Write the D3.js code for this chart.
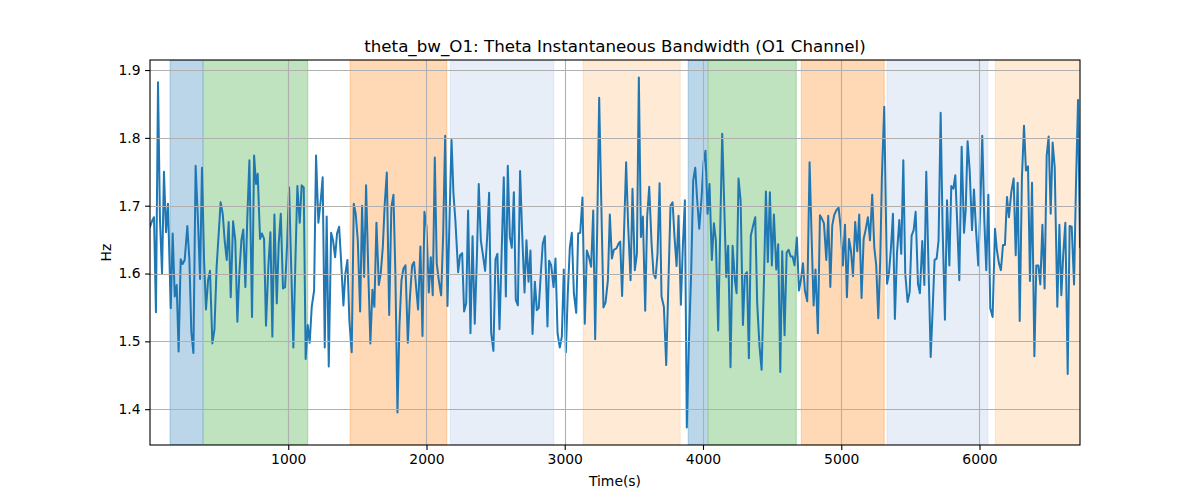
<!DOCTYPE html>
<html>
<head>
<meta charset="utf-8">
<script src="https://cdn.jsdelivr.net/npm/d3@7"></script>
<style>
  html, body { margin: 0; padding: 0; background: #fff; }
  text { font-family: "DejaVu Sans", sans-serif; fill: #000; }
</style>
</head>
<body>
<svg id="chart" width="1200" height="500"></svg>
<script>
// ---- data ----
const titleText = "theta_bw_O1: Theta Instantaneous Bandwidth (O1 Channel)";
const xLabel = "Time(s)";
const yLabel = "Hz";
const xTicks = [1000, 2000, 3000, 4000, 5000, 6000];
const yTicks = [1.4, 1.5, 1.6, 1.7, 1.8, 1.9];

const times = [
  0,14,29,43,58,72,87,101,116,130,150,164,179,193,207,222,236,251,270,285,299,314,330,347,362,376,391,405,420,434,451,466,482,511,526,540,555,569,584,601,617,632,646,661,675,690,704,719,738,753,767,779,796,810,825,839,
  856,871,885,900,917,931,946,962,977,991,1006,1020,1037,1052,1066,1083,1097,1112,1126,1141,1155,1170,1187,1201,1218,1235,1249,1264,1278,1293,1310,1324,1339,1353,1368,1382,1399,1413,1428,1442,1459,1474,1488,1503,1520,1534,1549,1563,1580,1594,1609,1623,1638,1655,1669,1684,
  1698,1713,1730,1746,1761,1775,1790,1804,1819,1833,1848,1865,1879,1896,1910,1925,1939,1956,1971,1985,2000,2017,2031,2045,2060,2074,2089,2106,2120,2135,2152,2166,2181,2195,2209,2229,2243,2258,2272,2287,2301,2318,2333,2349,2364,2378,2393,2407,2424,2439,2453,2468,2484,2499,2513,2528,
  2559,2574,2588,2603,2617,2632,2646,2661,2677,2692,2709,2723,2738,2752,2767,2784,2798,2812,2827,2841,2856,2875,2887,2902,2919,2933,2948,2964,2979,2993,3008,3022,3037,3051,3066,3083,3097,3112,3128,3145,3160,3174,3191,3206,3220,3235,3249,3264,3280,3295,3312,3326,3341,3355,3374,3389,
  3401,3415,3430,3444,3459,3476,3490,3507,3522,3536,3551,3565,3582,3596,3611,3628,3642,3657,3671,3686,3700,3717,3734,3751,3765,3780,3794,3809,3823,3840,3854,3869,3883,3898,3915,3929,3944,3958,3973,3990,4004,4018,4033,4047,4064,4079,4093,4110,4125,4139,4154,4168,4182,4199,4214,4231,
  4243,4257,4272,4289,4303,4318,4332,4346,4363,4378,4392,4409,4424,4441,4455,4469,4484,4498,4513,4530,4544,4559,4573,4590,4605,4619,4634,4648,4662,4679,4694,4708,4723,4737,4754,4771,4785,4800,4814,4831,4846,4860,4875,4892,4906,4921,4935,4949,4964,4981,4995,5012,5027,5041,5056,5070,5085,
  5101,5116,5130,5147,5162,5176,5193,5208,5224,5239,5253,5268,5282,5294,5311,5331,5345,5360,5374,5388,5403,5420,5434,5449,5463,5480,5495,5509,5524,5538,5555,5569,5586,5601,5615,5630,5647,5661,5675,5690,5704,5719,5733,5750,5765,5782,5796,5811,5825,5840,5854,5871,5888,5900,5914,5929,
  5946,5960,5975,5991,6006,6020,6035,6049,6064,6078,6095,6112,6126,6141,6155,6170,6184,6199,6213,6230,6247,6262,6276,6291,6307,6322,6336,6351,6365,6380,6397,6411,6426,6440,6455,6471,6486,6500,6515,6529,6544,6563,6578,6592,6606,6621,6638,6652,6667,6684,6698,6713,6727
];

const bandwidth = [
  1.669,1.677,1.683,1.543,1.882,1.680,1.600,1.750,1.661,1.703,1.549,1.659,1.566,1.583,1.485,1.621,1.614,1.620,1.670,1.620,1.514,1.483,1.759,1.678,1.592,1.756,1.620,1.547,1.590,1.604,1.497,1.517,1.610,1.705,1.688,1.649,1.620,1.676,1.565,1.677,1.649,1.529,1.600,1.649,1.665,1.580,1.683,1.767,1.536,1.774,1.732,1.747,1.651,1.659,1.651,1.523,
  1.610,1.661,1.507,1.687,1.556,1.644,1.688,1.578,1.580,1.639,1.727,1.620,1.491,1.620,1.729,1.675,1.730,1.727,1.474,1.524,1.498,1.551,1.575,1.774,1.675,1.708,1.742,1.491,1.684,1.463,1.660,1.649,1.624,1.659,1.669,1.620,1.553,1.600,1.620,1.531,1.484,1.703,1.688,1.649,1.544,1.700,1.595,1.730,1.595,1.497,1.576,1.551,1.675,1.583,1.600,1.639,
  1.703,1.749,1.539,1.698,1.716,1.600,1.395,1.522,1.590,1.607,1.612,1.498,1.561,1.612,1.617,1.580,1.547,1.640,1.508,1.691,1.669,1.572,1.624,1.568,1.771,1.615,1.590,1.568,1.654,1.803,1.552,1.678,1.797,1.718,1.678,1.602,1.627,1.630,1.544,1.556,1.693,1.512,1.655,1.526,1.620,1.732,1.649,1.629,1.604,1.654,1.719,1.512,1.486,1.621,1.629,1.518,
  1.742,1.566,1.759,1.654,1.638,1.720,1.561,1.553,1.751,1.659,1.572,1.649,1.588,1.634,1.511,1.588,1.546,1.549,1.600,1.644,1.655,1.522,1.619,1.612,1.580,1.622,1.512,1.491,1.507,1.606,1.484,1.571,1.639,1.660,1.571,1.542,1.659,1.660,1.712,1.526,1.634,1.625,1.610,1.693,1.503,1.669,1.859,1.708,1.550,1.557,1.590,1.687,1.622,1.635,1.637,1.644,
  1.647,1.567,1.669,1.764,1.669,1.590,1.725,1.605,1.629,1.889,1.654,1.684,1.545,1.683,1.728,1.644,1.600,1.593,1.629,1.733,1.566,1.551,1.465,1.595,1.700,1.705,1.654,1.611,1.685,1.554,1.639,1.708,1.373,1.497,1.605,1.737,1.756,1.708,1.666,1.713,1.764,1.781,1.688,1.732,1.620,1.674,1.649,1.516,1.669,1.806,1.698,1.595,1.641,1.462,1.641,1.590,
  1.571,1.740,1.708,1.524,1.598,1.602,1.475,1.656,1.671,1.683,1.556,1.492,1.458,1.590,1.721,1.617,1.720,1.612,1.687,1.606,1.643,1.455,1.633,1.509,1.631,1.635,1.625,1.625,1.612,1.653,1.575,1.590,1.615,1.575,1.559,1.764,1.659,1.553,1.606,1.512,1.686,1.681,1.674,1.620,1.685,1.580,1.671,1.686,1.693,1.697,1.669,1.612,1.672,1.565,1.651,1.634,1.596,
  1.676,1.633,1.687,1.564,1.651,1.664,1.683,1.649,1.716,1.639,1.612,1.534,1.620,1.742,1.846,1.585,1.600,1.639,1.688,1.533,1.629,1.679,1.629,1.767,1.600,1.558,1.573,1.656,1.664,1.691,1.585,1.571,1.648,1.583,1.750,1.620,1.477,1.546,1.620,1.622,1.649,1.837,1.669,1.532,1.708,1.612,1.729,1.725,1.745,1.669,1.590,1.787,1.660,1.693,1.795,1.752,
  1.664,1.724,1.664,1.612,1.698,1.803,1.678,1.605,1.716,1.549,1.536,1.666,1.634,1.615,1.605,1.642,1.642,1.713,1.683,1.720,1.740,1.627,1.734,1.530,1.742,1.818,1.752,1.758,1.589,1.734,1.478,1.612,1.612,1.584,1.672,1.578,1.774,1.802,1.688,1.793,1.757,1.551,1.672,1.568,1.629,1.675,1.452,1.670,1.669,1.584,1.732,1.856,1.639
];

// shaded segments (start, end in seconds) and their stage
const bandStart = [145, 386, 1447, 2173, 3133, 3893, 4040, 4711, 5331, 6114];
const bandEnd   = [381, 1141, 2147, 2921, 3835, 4033, 4675, 5311, 6061, 6730];
const bandStage = ["A", "B", "C", "D", "E", "A", "B", "C", "D", "E"];

// ---- styling ----
const stageColor = { A: "#1f77b4", B: "#2ca02c", C: "#ff7f0e", D: "#aec7e8", E: "#ffbb78" };
const W = 1200, H = 500;
const margin = { left: 150, right: 120, top: 60, bottom: 55 };
const iw = W - margin.left - margin.right;
const ih = H - margin.top - margin.bottom;

const svg = d3.select("#chart");

const x = d3.scaleLinear().domain(d3.extent(times)).range([margin.left, margin.left + iw]);
const [vmin, vmax] = d3.extent(bandwidth);
const pad = (vmax - vmin) * 0.05;
const y = d3.scaleLinear().domain([vmin - pad, vmax + pad]).range([margin.top + ih, margin.top]);

svg.append("defs").append("clipPath").attr("id", "plotclip")
  .append("rect").attr("x", margin.left).attr("y", margin.top).attr("width", iw).attr("height", ih);

const plot = svg.append("g").attr("clip-path", "url(#plotclip)");

// bands
plot.selectAll("rect.band")
  .data(bandStart.map((s, i) => ({ s, e: bandEnd[i], k: bandStage[i] })))
  .join("rect")
  .attr("class", "band")
  .attr("x", d => x(d.s))
  .attr("width", d => x(d.e) - x(d.s))
  .attr("y", margin.top)
  .attr("height", ih)
  .attr("fill", d => stageColor[d.k])
  .attr("fill-opacity", 0.3)
  .attr("stroke", d => stageColor[d.k])
  .attr("stroke-opacity", 0.3)
  .attr("stroke-width", 1);

// grid
const grid = svg.append("g");
grid.selectAll("line.gx").data(xTicks).join("line")
  .attr("x1", d => Math.round(x(d)) + 0.5).attr("x2", d => Math.round(x(d)) + 0.5)
  .attr("y1", margin.top).attr("y2", margin.top + ih)
  .attr("stroke", "#b0b0b0").attr("stroke-width", 1.1);
grid.selectAll("line.gy").data(yTicks).join("line")
  .attr("y1", d => Math.round(y(d)) + 0.5).attr("y2", d => Math.round(y(d)) + 0.5)
  .attr("x1", margin.left).attr("x2", margin.left + iw)
  .attr("stroke", "#b0b0b0").attr("stroke-width", 1.1);

// line
const line = d3.line().x((d, i) => x(times[i])).y(d => y(d));
plot.append("path")
  .datum(bandwidth)
  .attr("d", line)
  .attr("fill", "none")
  .attr("stroke", "#1f77b4")
  .attr("stroke-width", 2)
  .attr("stroke-linejoin", "round")
  .attr("stroke-linecap", "square");

// axes
const xAxis = d3.axisBottom(x).tickValues(xTicks).tickFormat(d3.format("d")).tickSize(4.9).tickPadding(4.5);
const yAxis = d3.axisLeft(y).tickValues(yTicks).tickFormat(d3.format(".1f")).tickSize(4.9).tickPadding(4.5);

const gx = svg.append("g").attr("transform", `translate(0,${margin.top + ih})`).call(xAxis);
const gy = svg.append("g").attr("transform", `translate(${margin.left},0)`).call(yAxis);
[gx, gy].forEach(g => {
  g.select(".domain").remove();
  g.selectAll(".tick line").attr("stroke", "#000").attr("stroke-width", 1.1);
  g.selectAll(".tick text").attr("font-size", "13.9px").attr("font-family", "DejaVu Sans").attr("fill", "#000");
});

// spines
svg.append("rect")
  .attr("x", margin.left).attr("y", margin.top).attr("width", iw).attr("height", ih)
  .attr("fill", "none").attr("stroke", "#000").attr("stroke-width", 1.1);

// title and labels
svg.append("text").attr("x", margin.left + iw / 2).attr("y", 52)
  .attr("text-anchor", "middle").attr("font-size", "16.7px").text(titleText);
svg.append("text").attr("x", margin.left + iw / 2).attr("y", 486)
  .attr("text-anchor", "middle").attr("font-size", "13.9px").text(xLabel);
svg.append("text").attr("transform", `translate(111,${margin.top + ih / 2}) rotate(-90)`)
  .attr("text-anchor", "middle").attr("font-size", "13.9px").text(yLabel);
</script>
</body>
</html>
